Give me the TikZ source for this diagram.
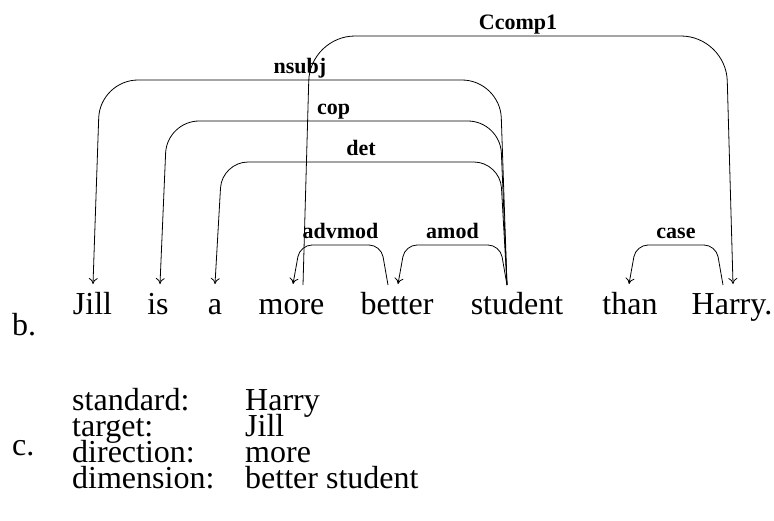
\documentclass[tikz,border=0pt]{standalone}
\usepackage{fontspec}
\setmainfont{Liberation Serif}
\usepackage{tikz}
\usetikzlibrary{arrows.meta, positioning, calc}

\begin{document}
\begin{tikzpicture}[
    x=1pt, y=-1pt,
    word/.style={anchor=base, inner sep=0pt, font=\fontsize{32}{38}\selectfont},
    item/.style={anchor=base west, inner sep=0pt, font=\fontsize{32}{38}\selectfont},
    deplabel/.style={anchor=base, yshift=7pt, inner sep=0pt, font=\fontsize{22}{26}\selectfont\bfseries},
    dep/.style={-{To[length=6pt,width=9pt]}, line width=0.8pt, rounded corners=#1},
    dep/.default=12
]
\useasboundingbox (0,0) rectangle (774,520);

% sentence
\node[item] (b) at (12,335) {b.};
\node[word] (Jill) at (92.5,314) {Jill};
\node[word] (is) at (158,314) {is};
\node[word] (a) at (215,314) {a};
\node[word] (more) at (291.5,314) {more};
\node[word] (better) at (397,314) {better};
\node[word] (student) at (517,314) {student};
\node[word] (than) at (630,314) {than};
\node[word] (Harry) at (732,314) {Harry.};

% dependency arcs
\draw[dep=45] ([xshift=11.5pt,yshift=29pt]more.base) -- ++(7,-249)
    -- node[deplabel] {Ccomp1} ([xshift=-6pt,yshift=278pt]Harry.base) -- ([xshift=1pt,yshift=30pt]Harry.base);
\draw[dep=38] ([xshift=-10pt,yshift=29pt]student.base) -- ++(-7,-205)
    -- node[deplabel] {nsubj} ([xshift=7.5pt,yshift=234pt]Jill.base) -- ([xshift=0.5pt,yshift=30pt]Jill.base);
\draw[dep=32] ([xshift=-10pt,yshift=29pt]student.base) -- ++(-7,-164)
    -- node[deplabel] {cop} ([xshift=9pt,yshift=193pt]is.base) -- ([xshift=2pt,yshift=30pt]is.base);
\draw[dep=26] ([xshift=-10pt,yshift=29pt]student.base) -- ++(-7,-123)
    -- node[deplabel] {det} ([xshift=7pt,yshift=152pt]a.base) -- ([yshift=30pt]a.base);
\draw[dep] ([xshift=-9pt,yshift=29pt]better.base) -- ++(-7,-40)
    -- node[deplabel] {advmod} ([xshift=8.5pt,yshift=69pt]more.base) -- ([xshift=1.5pt,yshift=30pt]more.base);
\draw[dep] ([xshift=-10pt,yshift=29pt]student.base) -- ++(-7,-40)
    -- node[deplabel] {amod} ([xshift=8pt,yshift=69pt]better.base) -- ([xshift=1pt,yshift=30pt]better.base);
\draw[dep] ([xshift=-9pt,yshift=29pt]Harry.base) -- ++(-7,-40)
    -- node[deplabel] {case} ([xshift=6pt,yshift=69pt]than.base) -- ([xshift=-1pt,yshift=30pt]than.base);

% comparison frame
\node[item] (c) at (12,455) {c.};
\node[item] (std) at (72,410) {standard:};
\node[item] (tgt) at (72,436) {target:};
\node[item] (dir) at (72,462) {direction:};
\node[item] (dim) at (72,488) {dimension:};
\node[item] (stdval) at (245,410) {Harry};
\node[item] (tgtval) at (245,436) {Jill};
\node[item] (dirval) at (245,462) {more};
\node[item] (dimval) at (245,488) {better student};
\end{tikzpicture}
\end{document}
